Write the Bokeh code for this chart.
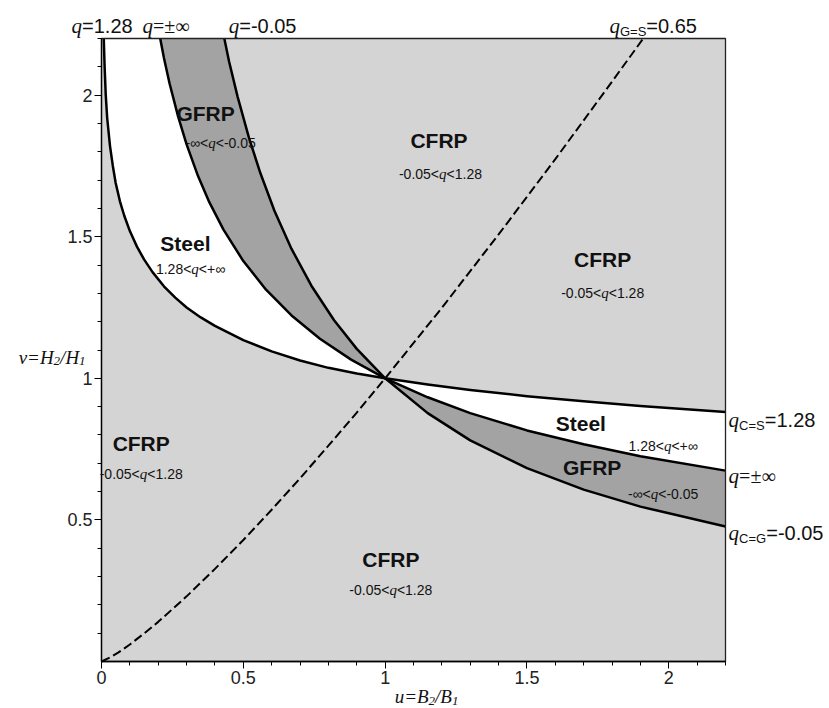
from bokeh.plotting import figure
from bokeh.models import Label, Range1d, FixedTicker, NumeralTickFormatter, LinearAxis, Grid
from bokeh.embed import file_html
from bokeh.resources import INLINE

SANS = "Liberation Sans"
SERIF = "Liberation Serif"

# ---- data ----
# boundary q = 1.28 (CFRP = Steel)
steel_u = [0.008, 0.011, 0.015, 0.02, 0.03, 0.04, 0.05, 0.065, 0.08, 0.1, 0.125, 0.15, 0.18,
           0.22, 0.26, 0.3, 0.35, 0.4, 0.5, 0.6, 0.7, 0.8, 0.9, 1.0, 1.15, 1.3, 1.5, 1.7,
           1.9, 2.2]
steel_v = [2.2, 2.1, 2.0, 1.92, 1.82, 1.75, 1.69, 1.625, 1.575, 1.52, 1.465, 1.42, 1.375,
           1.325, 1.285, 1.25, 1.215, 1.185, 1.135, 1.095, 1.063, 1.037, 1.017, 1.0, 0.978,
           0.959, 0.937, 0.919, 0.902, 0.881]
# boundary q = +-inf (GFRP = Steel)
inf_u = [0.207, 0.22, 0.24, 0.27, 0.3, 0.34, 0.38, 0.43, 0.5, 0.58, 0.67, 0.77, 0.88, 1.0,
         1.15, 1.3, 1.5, 1.7, 1.9, 2.2]
inf_v = [2.2, 2.132, 2.041, 1.925, 1.826, 1.715, 1.622, 1.525, 1.414, 1.313, 1.222, 1.14,
         1.066, 1.0, 0.933, 0.877, 0.816, 0.767, 0.725, 0.674]
# boundary q = -0.05 (CFRP = GFRP)
gf_u = [0.433, 0.45, 0.48, 0.52, 0.56, 0.61, 0.67, 0.74, 0.82, 0.9, 1.0, 1.15, 1.3, 1.5,
        1.7, 1.9, 2.2]
gf_v = [2.2, 2.118, 1.994, 1.849, 1.725, 1.591, 1.457, 1.327, 1.205, 1.104, 1.0, 0.877,
        0.781, 0.683, 0.607, 0.547, 0.477]
# dashed q_G=S = 0.65
gs_u = [0, 0.03, 0.06, 0.1, 0.15, 0.2, 0.3, 0.4, 0.5, 0.6, 0.7, 0.8, 0.9, 1.0, 1.2, 1.4,
        1.6, 1.8, 1.91]
gs_v = [0, 0.014, 0.032, 0.06, 0.099, 0.14, 0.23, 0.327, 0.429, 0.536, 0.647, 0.762,
        0.879, 1.0, 1.249, 1.508, 1.774, 2.048, 2.2]

x_major_ticks = [0, 0.5, 1, 1.5, 2]
y_major_ticks = [0.5, 1, 1.5, 2]
minor_ticks = [0.1, 0.2, 0.3, 0.4, 0.6, 0.7, 0.8, 0.9, 1.1, 1.2, 1.3, 1.4, 1.6, 1.7, 1.8,
               1.9, 2.1, 2.2]

region_names = ["CFRP", "CFRP", "CFRP", "CFRP", "GFRP", "Steel", "Steel", "GFRP"]
region_name_u = [1.19, 1.767, 0.14, 1.02, 0.367, 0.296, 1.69, 1.73]
region_name_v = [1.84, 1.42, 0.77, 0.36, 1.934, 1.475, 0.84, 0.685]
region_ranges = ["C", "C", "C", "C", "G", "S", "S", "G"]
region_range_u = [1.195, 1.767, 0.14, 1.02, 0.42, 0.314, 1.98, 1.98]
region_range_v = [1.74, 1.32, 0.68, 0.27, 1.85, 1.405, 0.78, 0.61]

# ---- layout: plot area in canvas pixels ----
X_LO, X_HI, Y_LO, Y_HI = 0.0, 2.2, 0.0, 2.2
W, H = 829, 708
FL, FR, FT, FB = 101, 725, 38, 661
sx = (FR - FL) / (X_HI - X_LO)
sy = (FB - FT) / (Y_HI - Y_LO)

p = figure(width=W, height=H,
           x_range=Range1d(X_LO - FL / sx, X_HI + (W - FR) / sx),
           y_range=Range1d(Y_LO - (H - FB) / sy, Y_HI + FT / sy),
           x_axis_location=None, y_axis_location=None, min_border=0, title=None,
           output_backend="svg", toolbar_location=None,
           background_fill_color="white", border_fill_color="white",
           outline_line_color=None)
for g in p.select(type=Grid):
    g.visible = False

# plot area background
p.quad(left=X_LO, right=X_HI, bottom=Y_LO, top=Y_HI, fill_color="#d4d4d4", line_color=None)

# regions
p.patch(steel_u + inf_u[::-1], steel_v + inf_v[::-1], fill_color="white", line_color=None)
p.patch(inf_u + gf_u[::-1], inf_v + gf_v[::-1], fill_color="#a3a3a3", line_color=None)

# boundaries
for uu, vv in ((steel_u, steel_v), (inf_u, inf_v), (gf_u, gf_v)):
    p.line(uu, vv, line_color="black", line_width=2.5, line_join="round")
p.line(gs_u, gs_v, line_color="black", line_width=2, line_dash="9 4")

# frame border
p.quad(left=X_LO, right=X_HI, bottom=Y_LO, top=Y_HI, fill_color=None, line_color="#222222",
       line_width=1.3)

# axes inside the canvas at the plot-area edges
for side, ticks, bnds in (("below", x_major_ticks, (X_LO, X_HI)),
                          ("left", y_major_ticks, (Y_LO, Y_HI))):
    ax = LinearAxis(fixed_location=0, bounds=bnds,
                    ticker=FixedTicker(ticks=ticks, minor_ticks=minor_ticks),
                    formatter=NumeralTickFormatter(format="0.[0]"))
    ax.major_tick_out = 7
    ax.major_tick_in = 0
    ax.minor_tick_out = 4
    ax.minor_tick_in = 0
    ax.major_label_standoff = 2
    ax.major_label_text_font = SANS
    ax.major_label_text_font_size = "18px"
    ax.major_label_text_color = "#222222"
    ax.axis_line_color = "black"
    ax.axis_line_width = 1.3
    ax.major_tick_line_color = "black"
    ax.minor_tick_line_color = "black"
    p.add_layout(ax, side)

# ---- rich text helper ----
SANS_W = {'0': .556, '1': .556, '2': .556, '3': .556, '4': .556, '5': .556, '6': .556,
          '7': .556, '8': .556, '9': .556, '.': .278, '-': .333, '=': .584, '<': .584,
          '+': .584, '±': .584, '∞': .713, 'C': .722, 'S': .667, 'G': .778}
SERIF_W = {'q': .5, 'u': .5, 'v': .444, '=': .675, '±': .675, '∞': .713, 'B': .611,
           'H': .722, '/': .278, '1': .5, '2': .5}


def rich(x, y, segs, align="center"):
    ws = []
    for (t, fam, st, sz, dy) in segs:
        table = SANS_W if fam == SANS else SERIF_W
        ws.append(sum(table.get(c, 0.55) for c in t) * sz)
    total = sum(ws)
    cur = {"left": 0.0, "center": -total / 2, "right": -total}[align]
    main = max(s[3] for s in segs)
    base = -0.36 * main
    for (t, fam, st, sz, dy), w in zip(segs, ws):
        p.add_layout(Label(x=x, y=y, x_offset=cur, y_offset=base + dy, text=t,
                           text_font=fam, text_font_style=st, text_font_size=f"{sz}px",
                           text_align="left", text_baseline="alphabetic",
                           text_color="#111111"))
        cur += w


def q_seg(sz=21):
    return ("q", SERIF, "italic", sz, 0)


range_segs = {
    "C": [("-0.05<", SANS, "normal", 14, 0), ("q", SERIF, "italic", 15, 0), ("<1.28", SANS, "normal", 14, 0)],
    "G": [("-∞<", SANS, "normal", 14, 0), ("q", SERIF, "italic", 15, 0), ("<-0.05", SANS, "normal", 14, 0)],
    "S": [("1.28<", SANS, "normal", 14, 0), ("q", SERIF, "italic", 15, 0), ("<+∞", SANS, "normal", 14, 0)],
}

for name, nu, nv, rk, ru, rv in zip(region_names, region_name_u, region_name_v,
                                    region_ranges, region_range_u, region_range_v):
    p.add_layout(Label(x=nu, y=nv, text=name, text_font=SANS, text_font_style="bold",
                       text_font_size="21px", text_align="center", text_baseline="middle",
                       text_color="#111111"))
    rich(ru, rv, range_segs[rk], "center")

# top labels
rich(0.002, 2.27, [q_seg(), ("=1.28", SANS, "normal", 20, 0)])
rich(0.236, 2.27, [q_seg(), ("=±∞", SERIF, "normal", 20, 0)])
rich(0.568, 2.27, [q_seg(), ("=-0.05", SANS, "normal", 20, 0)])
rich(1.945, 2.27, [q_seg(), ("G=S", SANS, "normal", 13, -5), ("=0.65", SANS, "normal", 20, 0)])

# right labels
rich(2.211, 0.879, [q_seg(21), ("C=S", SANS, "normal", 13, -5), ("=1.28", SANS, "normal", 20, 0)], "left")
rich(2.211, 0.681, [q_seg(21), ("=±∞", SERIF, "normal", 20, 0)], "left")
rich(2.211, 0.48, [q_seg(21), ("C=G", SANS, "normal", 13, -5), ("=-0.05", SANS, "normal", 20, 0)], "left")

# axis titles
rich(1.146, -0.1, [("u=B", SERIF, "italic", 19, 0), ("2", SERIF, "italic", 13, -4),
                    ("/B", SERIF, "italic", 19, 0), ("1", SERIF, "italic", 13, -4)])
rich(-0.056, 1.098, [("v=H", SERIF, "italic", 19, 0), ("2", SERIF, "italic", 13, -4),
                      ("/H", SERIF, "italic", 19, 0), ("1", SERIF, "italic", 13, -4)], "right")

open("out.html", "w").write(file_html(p, INLINE))
